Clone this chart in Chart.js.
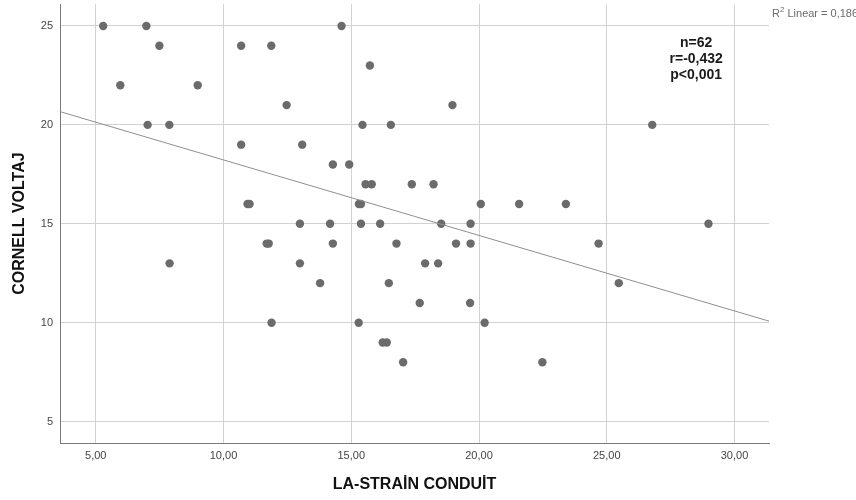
<!DOCTYPE html>
<html>
<head>
<meta charset="utf-8">
<script src="https://cdn.jsdelivr.net/npm/chart.js@4/dist/chart.umd.min.js"></script>
<style>
    html, body { margin: 0; padding: 0; background: #ffffff; }
    canvas { display: block; }
</style>
</head>
<body>
<canvas id="scatterChart" width="856" height="500"></canvas>
<script>
// LA strain (conduit) values, one per patient
const strainValues = [
    5.29, 6.98, 14.62,
    7.49, 10.69, 11.87,
    15.73,
    5.96, 8.99,
    12.47, 18.96,
    7.03, 7.88, 15.44, 16.55, 26.78,
    10.69, 13.08,
    14.28, 14.92,
    15.56, 15.80, 17.37, 18.22,
    10.94, 11.02, 15.30, 15.38, 20.07, 21.57, 23.40,
    12.99, 14.17, 15.38, 16.13, 18.52, 19.67, 28.98,
    11.69, 11.77, 14.28, 16.77, 19.10, 19.67, 24.68,
    7.89, 12.99, 17.89, 18.40,
    13.78, 16.47, 25.47,
    17.68, 19.65,
    11.88, 15.29, 20.22,
    16.23, 16.39,
    17.03, 22.48
];

// Cornell voltage values, same order as above
const voltageValues = [
    25, 25, 25,
    24, 24, 24,
    23,
    22, 22,
    21, 21,
    20, 20, 20, 20, 20,
    19, 19,
    18, 18,
    17, 17, 17, 17,
    16, 16, 16, 16, 16, 16, 16,
    15, 15, 15, 15, 15, 15, 15,
    14, 14, 14, 14, 14, 14, 14,
    13, 13, 13, 13,
    12, 12, 12,
    11, 11,
    10, 10, 10,
    9, 9,
    8, 8
];

// Linear fit line end points
const fitStrain = [3.6, 31.35];
const fitVoltage = [20.67, 10.08];

const xTicks = [5, 10, 15, 20, 25, 30];
const yTicks = [5, 10, 15, 20, 25];

const statsLines = ['n=62', 'r=-0,432', 'p<0,001'];
const rSquaredText = '0,186';

const fontFamily = '"Liberation Sans", Arial, sans-serif';

// Draws the stats box and the R2 label on top of the plot
const textPlugin = {
    id: 'statsText',
    afterDraw(chart) {
        const ctx = chart.ctx;
        const x = chart.scales.x;
        const y = chart.scales.y;
        ctx.save();

        // Stats block, centred above the upper right points
        ctx.font = 'bold 14px ' + fontFamily;
        ctx.fillStyle = '#1a1a1a';
        ctx.textAlign = 'center';
        ctx.textBaseline = 'middle';
        const cx = x.getPixelForValue(28.5);
        const top = y.getPixelForValue(24.15);
        statsLines.forEach((line, i) => {
            ctx.fillText(line, cx, top + i * 16.3);
        });

        // R2 Linear label to the right of the plot
        ctx.fillStyle = '#6b6b6b';
        ctx.textAlign = 'left';
        let lx = chart.chartArea.right + 3;
        const ly = 14;
        ctx.font = '11px ' + fontFamily;
        ctx.fillText('R', lx, ly);
        lx += ctx.measureText('R').width;
        ctx.font = '8px ' + fontFamily;
        ctx.fillText('2', lx, ly - 4);
        lx += ctx.measureText('2').width;
        ctx.font = '11px ' + fontFamily;
        ctx.fillText(' Linear = ' + rSquaredText, lx, ly);

        ctx.restore();
    }
};

const ctx = document.getElementById('scatterChart').getContext('2d');

new Chart(ctx, {
    type: 'scatter',
    data: {
        datasets: [
            {
                // Regression line
                data: fitStrain.map((v, i) => ({x: v, y: fitVoltage[i]})),
                showLine: true,
                borderColor: '#8f8f8f',
                borderWidth: 1,
                pointRadius: 0,
                fill: false
            },
            {
                data: strainValues.map((v, i) => ({x: v, y: voltageValues[i]})),
                backgroundColor: '#6b6b6b',
                borderColor: '#6b6b6b',
                borderWidth: 0,
                pointRadius: 4.2
            }
        ]
    },
    options: {
        responsive: false,
        animation: false,
        layout: {
            padding: {top: 4, right: 87, left: 0, bottom: 0}
        },
        plugins: {
            legend: {display: false},
            tooltip: {enabled: false}
        },
        scales: {
            x: {
                type: 'linear',
                min: 3.6,
                max: 31.35,
                afterBuildTicks: scale => {
                    scale.ticks = xTicks.map(v => ({value: v}));
                },
                afterFit: scale => {
                    scale.height = 57;
                    scale.paddingLeft = 0;
                    scale.paddingRight = 0;
                },
                grid: {
                    color: '#d2d2d2',
                    lineWidth: 1,
                    drawTicks: false
                },
                border: {
                    color: '#7a7a7a',
                    width: 1
                },
                ticks: {
                    padding: 6,
                    color: '#444444',
                    font: {family: fontFamily, size: 11},
                    callback: v => v.toFixed(2).replace('.', ',')
                },
                title: {
                    display: true,
                    text: 'LA-STRAİN CONDUİT',
                    color: '#111111',
                    font: {family: fontFamily, size: 16, weight: 'bold'},
                    padding: {top: 0, bottom: 6}
                }
            },
            y: {
                type: 'linear',
                min: 3.92,
                max: 26.1,
                afterBuildTicks: scale => {
                    scale.ticks = yTicks.map(v => ({value: v}));
                },
                afterFit: scale => {
                    scale.width = 60;
                    scale.paddingTop = 0;
                    scale.paddingBottom = 0;
                },
                grid: {
                    color: '#d2d2d2',
                    lineWidth: 1,
                    drawTicks: false
                },
                border: {
                    color: '#7a7a7a',
                    width: 1
                },
                ticks: {
                    padding: 7,
                    color: '#444444',
                    font: {family: fontFamily, size: 11},
                    callback: v => String(v)
                },
                title: {
                    display: true,
                    text: 'CORNELL VOLTAJ',
                    color: '#111111',
                    font: {family: fontFamily, size: 16, weight: 'bold'},
                    padding: {top: 10, bottom: 0}
                }
            }
        }
    },
    plugins: [textPlugin]
});
</script>
</body>
</html>
